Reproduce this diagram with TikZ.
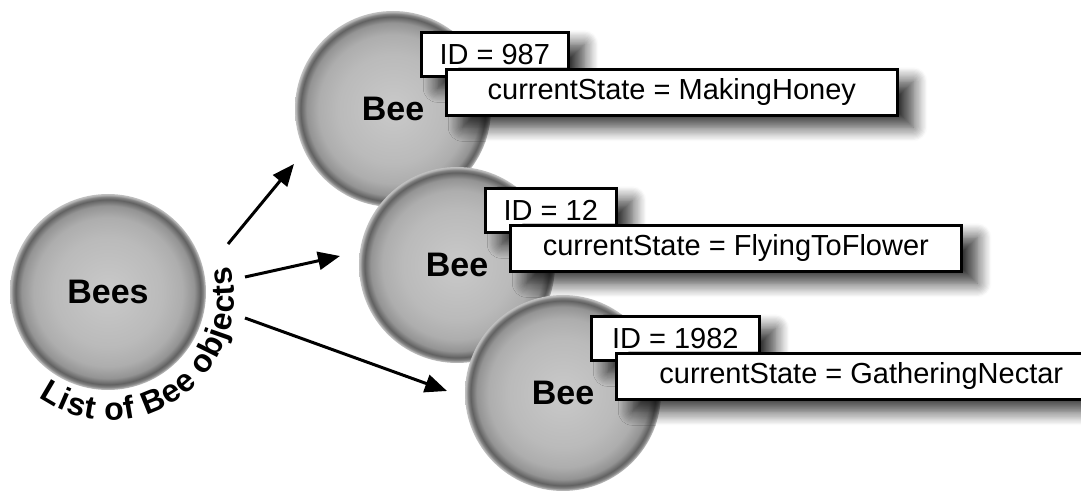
\documentclass[tikz,border=0pt]{standalone}
\usepackage{fontspec}
\setmainfont{Liberation Sans}
\usetikzlibrary{positioning, arrows.meta, shadows.blur, decorations.text}

\pgfdeclareradialshading{beeshade}{\pgfpointorigin}{%
  color(0bp)=(black!21); color(14bp)=(black!27); color(19bp)=(black!32);
  color(22bp)=(black!42); color(23.6bp)=(black!62); color(24.3bp)=(black!48);
  color(24.7bp)=(black!30); color(25bp)=(black!24); color(50bp)=(black!24)}

\tikzset{
  ball/.style={circle, shading=beeshade, minimum size=98pt, inner sep=0pt,
    font=\fontsize{17}{20}\selectfont\bfseries},
  field/.style={draw=black, line width=1.3pt, fill=white, inner sep=0pt,
    anchor=north west, font=\fontsize{14.5}{17}\selectfont,
    blur shadow={shadow xshift=8pt, shadow yshift=-6pt,
      shadow blur radius=7pt, shadow blur steps=12, shadow opacity=80}},
  link/.style={line width=1.5pt, -{Triangle[length=11pt, width=9pt]}}
}

\begin{document}
\begin{tikzpicture}[x=0.5pt, y=-0.5pt]
\useasboundingbox (0,0) rectangle (1081,491);

% Lista pszczół
\node[ball] (bees) at (108,292) {Bees};

% Obiekty Bee z polami ID i currentState
\foreach \i/\x/\y/\id/\iw/\state/\sw in {
  1/393/109/987/73.5/MakingHoney/225.5,
  2/457/265/12/65.5/FlyingToFlower/225.5,
  3/563/393/1982/84/GatheringNectar/245} {
  \node[ball] (bee\i) at (\x,\y) {Bee};
  \node[field, minimum width=\iw pt, minimum height=22pt]
    (id\i) at ([shift={(27,-78)}]bee\i.center) {ID = \id};
  \node[field, minimum width=\sw pt, minimum height=23pt]
    (state\i) at ([shift={(52,-41)}]bee\i.center) {currentState = \state};
}

% Strzałki od listy do obiektów
\coordinate (s1) at (228,244); \coordinate (t1) at (294,164);
\coordinate (s2) at (245,277); \coordinate (t2) at (340,256);
\coordinate (s3) at (245,318); \coordinate (t3) at (447,391);
\foreach \i in {1,2,3} {
  \draw[link] (s\i) -- (t\i);
}

% Napis wzdłuż łuku
\coordinate (arcA) at (38.9,397.6);
\path[decorate, decoration={text along path, text align=fit to path,
    text={|\fontsize{16}{19}\selectfont\bfseries|List of Bee objects}}]
  (arcA) arc[start angle=125, end angle=-14, radius=124];

\end{tikzpicture}
\end{document}
